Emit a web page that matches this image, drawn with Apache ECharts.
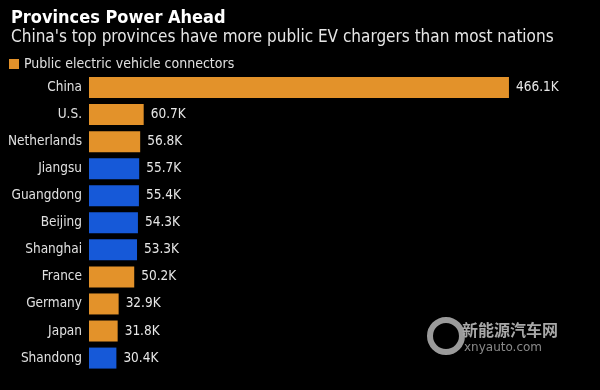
<!DOCTYPE html>
<html><head><meta charset="utf-8">
<script src="https://cdn.jsdelivr.net/npm/echarts@6/dist/echarts.min.js"></script>
<style>html,body{margin:0;padding:0;background:#000;}#c{width:600px;height:390px;}</style>
</head><body><div id="c"></div>
<script>
const categories = ["China","U.S.","Netherlands","Jiangsu","Guangdong","Beijing","Shanghai","France","Germany","Japan","Shandong"];
const values = [466.1,60.7,56.8,55.7,55.4,54.3,53.3,50.2,32.9,31.8,30.4];
const isProvince = [false,false,false,true,true,true,true,false,false,false,true];
const seriesName = "Public electric vehicle connectors";
const ORANGE = "#e3922a", BLUE = "#1659d8";
const FONT = "DejaVu Sans Condensed, Liberation Sans Narrow, sans-serif";

const chart = echarts.init(document.getElementById('c'));
chart.setOption({
  backgroundColor: "#000",
  animation: false,
  title: {
    text: "Provinces Power Ahead",
    subtext: "China's top provinces have more public EV chargers than most nations",
    left: 6, top: 4, itemGap: 2,
    textStyle: {color: "#fff", fontSize: 18, fontWeight: "bold", fontFamily: FONT},
    subtextStyle: {color: "#e6e6e6", fontSize: 17, fontFamily: FONT}
  },
  legend: {
    left: 4, top: 52, itemWidth: 10, itemHeight: 10, itemGap: 6,
    icon: "rect",
    textStyle: {color: "#e0e0e0", fontSize: 14, fontFamily: FONT},
    data: [seriesName]
  },
  grid: {left: 89, right: 60.5, top: 74, bottom: 18.4},
  xAxis: {type: "value", min: 0, max: 500, show: false},
  yAxis: {
    type: "category", inverse: true, data: categories,
    axisLine: {show: false}, axisTick: {show: false},
    axisLabel: {color: "#e0e0e0", fontSize: 13.5, fontFamily: FONT, margin: 7}
  },
  series: [{
    name: seriesName, type: "bar", barWidth: 21,
    itemStyle: {color: ORANGE},
    data: values.map((v, i) => ({value: v, itemStyle: {color: isProvince[i] ? BLUE : ORANGE}})),
    label: {
      show: true, position: "right", distance: 7,
      color: "#e6e6e6", fontSize: 13.5, fontFamily: FONT,
      formatter: p => p.value.toFixed(1) + "K"
    }
  }],
  graphic: [
    {type: "circle", left: 427, top: 317, shape: {r: 16}, style: {fill: "none", stroke: "#9a9a9a", lineWidth: 6}},
    {type: "text", left: 462, top: 322, style: {text: "新能源汽车网", fill: "#a8a8a8", font: "bold 16px 'Noto Sans CJK SC', sans-serif"}},
    {type: "text", left: 464, top: 342, style: {text: "xnyauto.com", fill: "#8a8a8a", font: "12px 'DejaVu Sans', sans-serif"}}
  ]
});
</script></body></html>
